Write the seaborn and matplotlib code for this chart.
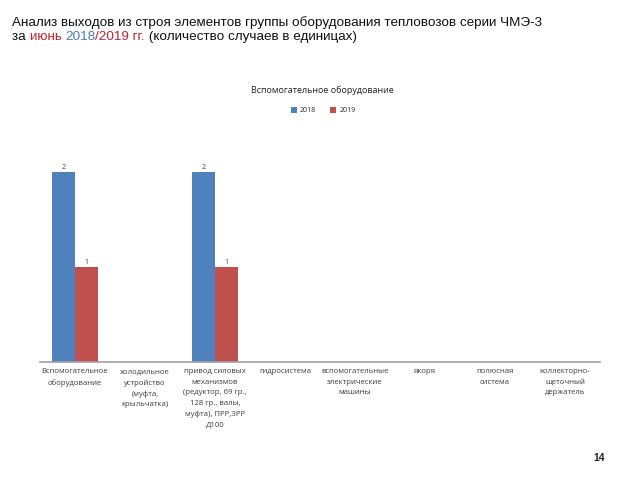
import numpy as np
import pandas as pd
import matplotlib
matplotlib.use("Agg")
import matplotlib.pyplot as plt
import seaborn as sns

# Категории и значения (количество случаев)
categories = [
    "Вспомогательное\nоборудование",
    "холодильное\nустройство\n(муфта,\nкрыльчатка)",
    "привод силовых\nмеханизмов\n(редуктор, 69 гр.,\n128 гр., валы,\nмуфта), ПРР,ЗРР\nД100",
    "гидросистема",
    "вспомогательные\nэлектрические\nмашины",
    "якоря",
    "полюсная\nсистема",
    "коллекторно-\nщеточный\nдержатель",
]
values_2018 = [2, 0, 2, 0, 0, 0, 0, 0]
values_2019 = [1, 0, 1, 0, 0, 0, 0, 0]
years = ["2018", "2019"]

df = pd.DataFrame({
    "Категория": categories * 2,
    "Год": [years[0]] * len(categories) + [years[1]] * len(categories),
    "Случаи": values_2018 + values_2019,
})

sns.set_theme(style="white")
plt.rcParams["font.family"] = ["Open Sans", "DejaVu Sans"]

fig = plt.figure(figsize=(6.4, 4.8), dpi=100)
ax = fig.add_axes([0.0625, 0.2458, 0.875, 0.4942])

palette = {"2018": "#4F81BD", "2019": "#C0504D"}
sns.barplot(data=df, x="Категория", y="Случаи", hue="Год", palette=palette,
            width=0.66, saturation=1, ax=ax, edgecolor="none")

# подписи значений
for cont in ax.containers:
    labels = [f"{int(v)}" if v > 0 else "" for v in cont.datavalues]
    ax.bar_label(cont, labels=labels, fontsize=5, color="#404040", padding=1)

ax.set_ylim(0, 2.5)
ax.set_xlim(-0.5, len(categories) - 0.5)
ax.set_xlabel("")
ax.set_ylabel("")
ax.set_yticks([])
ax.tick_params(axis="x", length=0, pad=4.5, labelsize=5.6, labelcolor="#404040")
for lbl in ax.get_xticklabels():
    lbl.set_linespacing(1.7)
    lbl.set_verticalalignment("top")
for side in ["top", "right", "left"]:
    ax.spines[side].set_visible(False)
ax.spines["bottom"].set_color("#A0A0A0")
ax.spines["bottom"].set_linewidth(1.2)

fig.text(0.503, 0.812, "Вспомогательное оборудование", ha="center", va="center",
         fontsize=6.5, color="#222222")
ax.legend(loc="center", bbox_to_anchor=(0.505, 0.769), bbox_transform=fig.transFigure,
          ncol=2, frameon=False, fontsize=5, handlelength=0.8, handleheight=0.8,
          columnspacing=2.0, handletextpad=0.5)

# Заголовок слайда
head_font = ["Liberation Sans", "DejaVu Sans"]
fig.text(0.019, 0.954, "Анализ выходов из строя элементов группы оборудования тепловозов серии ЧМЭ-3",
         fontsize=9.7, family=head_font, color="#111111", va="center")
pieces = [("за ", "#111111"), ("июнь ", "#C8202C"), ("2018", "#4A7EBB"),
          ("/2019 гг.", "#C8202C"), (" (количество случаев в единицах)", "#111111")]
fig.canvas.draw()
renderer = fig.canvas.get_renderer()
x = 0.019
for txt, col in pieces:
    t = fig.text(x, 0.922, txt, fontsize=9.7, family=head_font, color=col, va="center")
    bb = t.get_window_extent(renderer=renderer)
    x += bb.width / fig.bbox.width

fig.text(0.936, 0.046, "14", fontsize=7.5, fontweight="bold", ha="center", va="center",
         family=head_font)

fig.savefig("out.png", dpi=100)
